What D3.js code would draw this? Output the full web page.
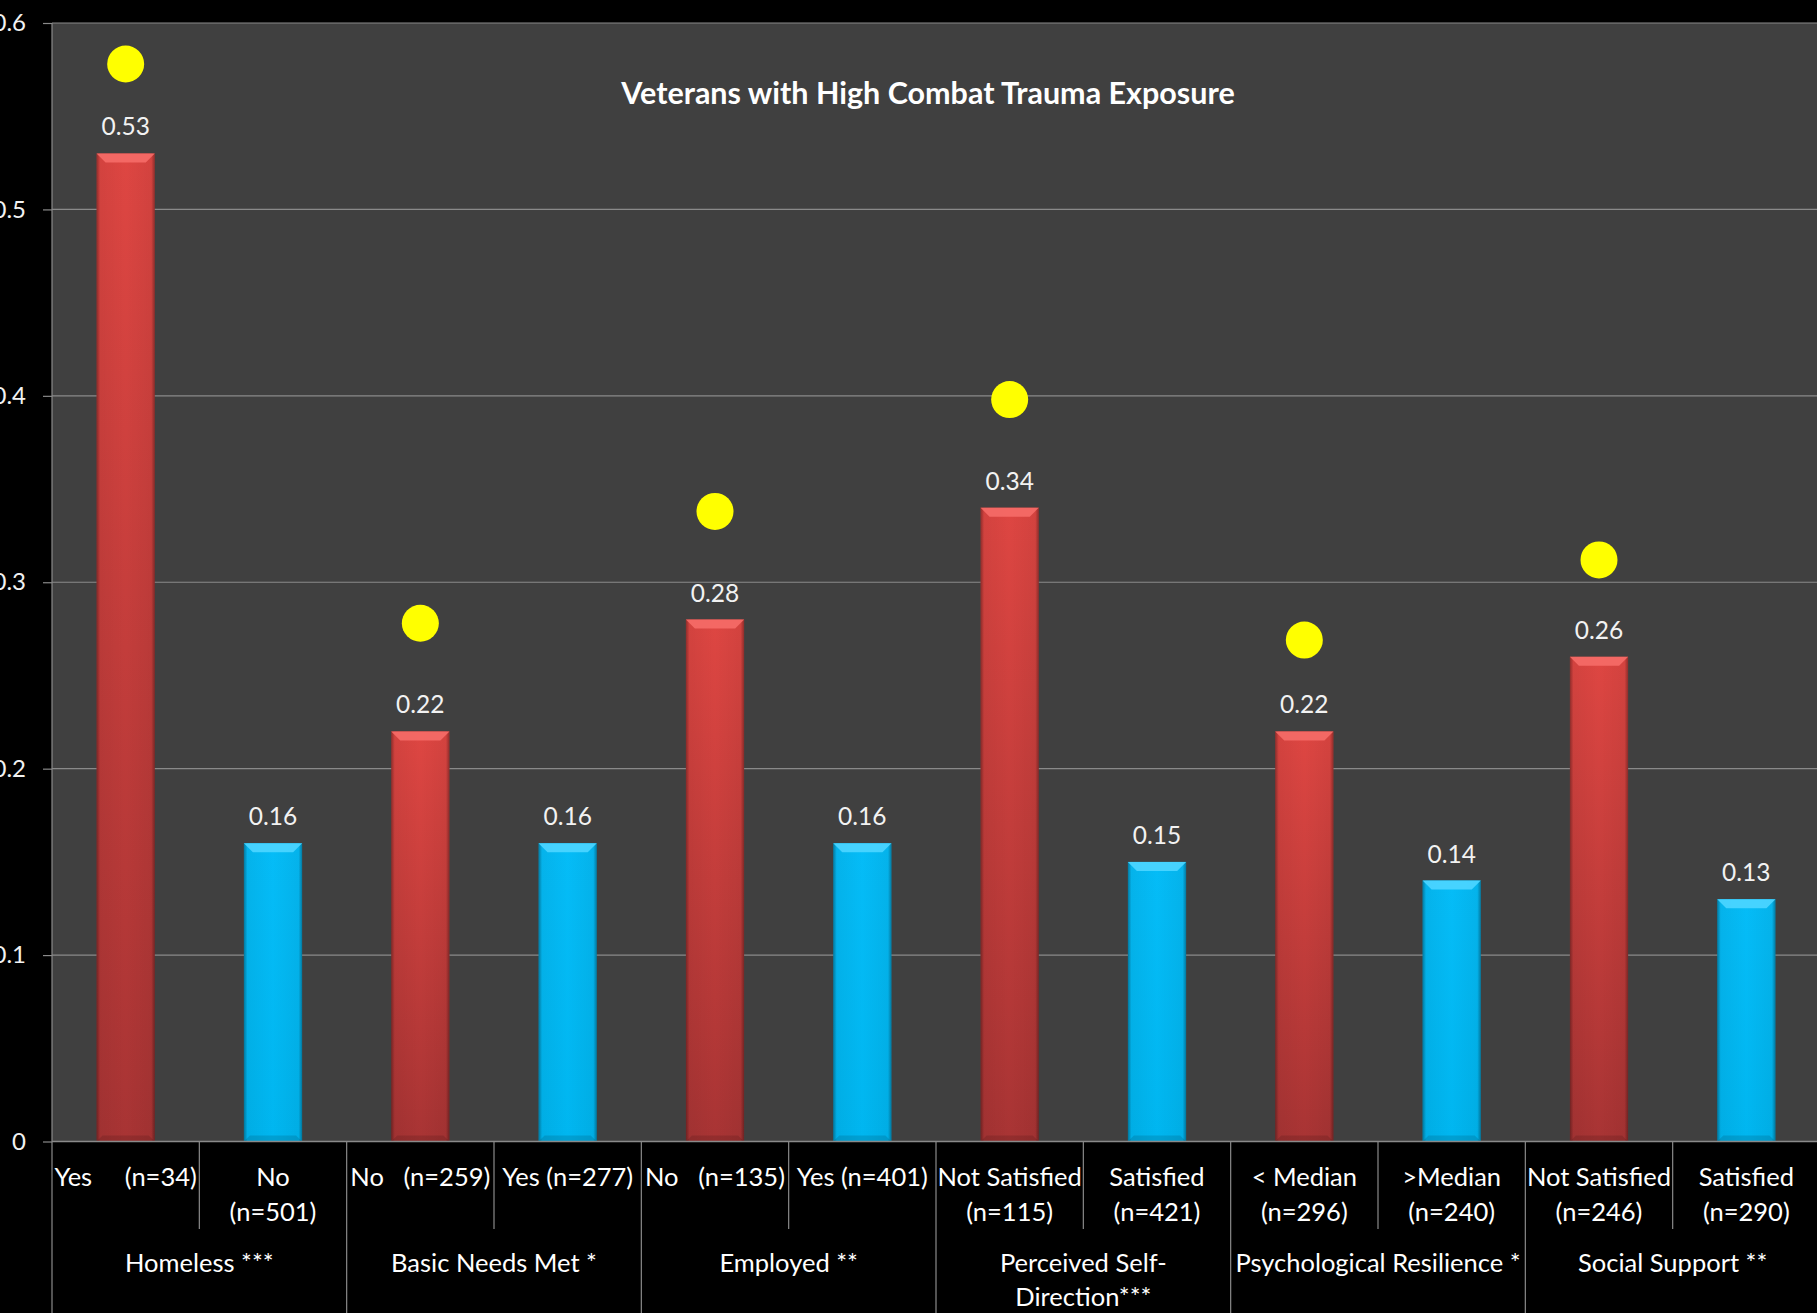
<!DOCTYPE html>
<html>
<head>
<meta charset="utf-8">
<script src="https://cdn.jsdelivr.net/npm/d3@7/dist/d3.min.js"></script>
<style>
  html, body { margin: 0; padding: 0; background: #000; }
  svg { display: block; }
  text { font-family: Lato, "Open Sans", sans-serif; }
</style>
</head>
<body>
<svg id="chart" width="1817" height="1313"></svg>
<script>
// Proportion of veterans with high combat trauma exposure, by subgroup
const subLabels = [
  ["Yes     (n=34)"], ["No", "(n=501)"],
  ["No   (n=259)"], ["Yes (n=277)"],
  ["No   (n=135)"], ["Yes (n=401)"],
  ["Not Satisfied", "(n=115)"], ["Satisfied", "(n=421)"],
  ["< Median", "(n=296)"], [">Median", "(n=240)"],
  ["Not Satisfied", "(n=246)"], ["Satisfied", "(n=290)"]
];
const groupLabels = [
  ["Homeless ***"], ["Basic Needs Met *"], ["Employed **"],
  ["Perceived Self-", "Direction***"], ["Psychological Resilience *"], ["Social Support **"]
];
const values = [0.53, 0.16, 0.22, 0.16, 0.28, 0.16, 0.34, 0.15, 0.22, 0.14, 0.26, 0.13];
const riskGroup = [true, false, true, false, true, false, true, false, true, false, true, false];
// Yellow markers above each at-risk bar
const markerValues = [0.578, null, 0.278, null, 0.338, null, 0.398, null, 0.269, null, 0.312, null];
const yTicks = [0, 0.1, 0.2, 0.3, 0.4, 0.5, 0.6];
const title = "Veterans with High Combat Trauma Exposure";

const svg = d3.select("#chart");
const W = 1817, H = 1313;
const plot = { left: 52, right: 1820, top: 23, bottom: 1141.5 };

const x = d3.scaleBand().domain(d3.range(values.length)).range([plot.left, plot.right]).padding(0);
const y = d3.scaleLinear().domain([0, 0.6]).range([plot.bottom, plot.top]);
const barW = x.bandwidth() * 0.395;

// gradients
const defs = svg.append("defs");
const redG = defs.append("linearGradient").attr("id", "redFill").attr("x1", 0).attr("y1", 0).attr("x2", 0).attr("y2", 1);
redG.append("stop").attr("offset", "0%").attr("stop-color", "#de4642");
redG.append("stop").attr("offset", "100%").attr("stop-color", "#a83434");
const blueG = defs.append("linearGradient").attr("id", "blueFill").attr("x1", 0).attr("y1", 0).attr("x2", 0).attr("y2", 1);
blueG.append("stop").attr("offset", "0%").attr("stop-color", "#05bcf7");
blueG.append("stop").attr("offset", "100%").attr("stop-color", "#00b6f0");
const edgeG = defs.append("linearGradient").attr("id", "edgeShade").attr("x1", 0).attr("y1", 0).attr("x2", 1).attr("y2", 0);
edgeG.append("stop").attr("offset", "0%").attr("stop-color", "#000").attr("stop-opacity", 0.35);
edgeG.append("stop").attr("offset", "6%").attr("stop-color", "#000").attr("stop-opacity", 0.05);
edgeG.append("stop").attr("offset", "50%").attr("stop-color", "#000").attr("stop-opacity", 0);
edgeG.append("stop").attr("offset", "94%").attr("stop-color", "#000").attr("stop-opacity", 0.05);
edgeG.append("stop").attr("offset", "100%").attr("stop-color", "#000").attr("stop-opacity", 0.35);

// plot background
svg.append("rect").attr("x", plot.left).attr("y", plot.top)
  .attr("width", plot.right - plot.left).attr("height", plot.bottom - plot.top)
  .attr("fill", "#404040");

// gridlines
svg.append("g").selectAll("line").data(yTicks.filter(d => d > 0)).join("line")
  .attr("x1", plot.left).attr("x2", plot.right)
  .attr("y1", d => y(d)).attr("y2", d => y(d))
  .attr("stroke", "#8a8a8a").attr("stroke-width", 1.2);

// y axis
const yAxis = d3.axisLeft(y).tickValues(yTicks).tickSizeInner(9).tickSizeOuter(0).tickPadding(17)
  .tickFormat(d => d === 0 ? "0" : d3.format(".1f")(d));
const yg = svg.append("g").attr("transform", `translate(${plot.left},0)`).call(yAxis);
yg.select(".domain").remove();
yg.selectAll(".tick line").attr("stroke", "#8a8a8a").attr("stroke-width", 1.2);
yg.selectAll(".tick text").attr("fill", "#f2f2f2").attr("font-size", 24).attr("font-family", "Lato, sans-serif");

// bars
const bars = svg.append("g").selectAll("g").data(values).join("g");
bars.append("rect")
  .attr("x", (d, i) => x(i) + (x.bandwidth() - barW) / 2)
  .attr("y", d => y(d)).attr("width", barW).attr("height", d => y(0) - y(d))
  .attr("fill", (d, i) => riskGroup[i] ? "url(#redFill)" : "url(#blueFill)");
bars.append("rect")
  .attr("x", (d, i) => x(i) + (x.bandwidth() - barW) / 2)
  .attr("y", d => y(d)).attr("width", barW).attr("height", d => y(0) - y(d))
  .attr("fill", "url(#edgeShade)");
// top bevel
const bev = 9;
bars.append("polygon")
  .attr("points", (d, i) => {
    const x0 = x(i) + (x.bandwidth() - barW) / 2, x1 = x0 + barW, t = y(d);
    return [[x0, t], [x1, t], [x1 - bev, t + bev], [x0 + bev, t + bev]].join(" ");
  })
  .attr("fill", (d, i) => riskGroup[i] ? "#f46a66" : "#4ad4ff")
  .attr("opacity", 0.95);
// bottom bevel
bars.append("polygon")
  .attr("points", (d, i) => {
    const x0 = x(i) + (x.bandwidth() - barW) / 2, x1 = x0 + barW, b = y(0);
    return [[x0, b], [x1, b], [x1 - 6, b - 6], [x0 + 6, b - 6]].join(" ");
  })
  .attr("fill", "#000").attr("opacity", 0.12);

// value labels
bars.append("text")
  .attr("x", (d, i) => x(i) + x.bandwidth() / 2)
  .attr("y", d => y(d) - 18)
  .attr("text-anchor", "middle").attr("font-size", 24.5).attr("fill", "#f2f2f2")
  .text(d => d3.format(".2f")(d));

// markers
svg.append("g").selectAll("circle")
  .data(markerValues.map((v, i) => ({ v, i })).filter(d => d.v !== null)).join("circle")
  .attr("cx", d => x(d.i) + x.bandwidth() / 2).attr("cy", d => y(d.v))
  .attr("r", 18.5).attr("fill", "#ffff00");

// category axis baseline
svg.append("line").attr("x1", plot.left).attr("x2", plot.right)
  .attr("y1", y(0)).attr("y2", y(0)).attr("stroke", "#8a8a8a").attr("stroke-width", 1.5);

// vertical axis line running through the label rows
svg.append("line").attr("x1", plot.left).attr("x2", plot.left)
  .attr("y1", plot.top).attr("y2", H).attr("stroke", "#8a8a8a").attr("stroke-width", 1.2);

// category dividers
const divs = svg.append("g");
d3.range(1, values.length + 1).forEach(i => {
  const xx = plot.left + i * x.step();
  divs.append("line").attr("x1", xx).attr("x2", xx)
    .attr("y1", y(0)).attr("y2", i % 2 === 0 ? H : 1229)
    .attr("stroke", "#8a8a8a").attr("stroke-width", 1.2);
});

// sub-category labels
const sub = svg.append("g");
subLabels.forEach((lines, i) => {
  const t = sub.append("text").attr("x", x(i) + x.bandwidth() / 2).attr("text-anchor", "middle")
    .attr("font-size", 25.5).attr("fill", "#ffffff").style("white-space", "pre");
  lines.forEach((ln, k) => t.append("tspan").attr("x", x(i) + x.bandwidth() / 2).attr("y", 1186 + k * 35).text(ln));
});

// group labels
const grp = svg.append("g");
groupLabels.forEach((lines, g) => {
  const cx = plot.left + (2 * g + 1) * x.step();
  const t = grp.append("text").attr("text-anchor", "middle").attr("font-size", 25.5).attr("fill", "#ffffff");
  lines.forEach((ln, k) => t.append("tspan").attr("x", cx).attr("y", 1272 + k * 34).text(ln));
});

// title
svg.append("text").attr("x", 928).attr("y", 104).attr("text-anchor", "middle")
  .attr("font-size", 30.5).attr("font-weight", "bold").attr("fill", "#ffffff").text(title);
</script>
</body>
</html>
